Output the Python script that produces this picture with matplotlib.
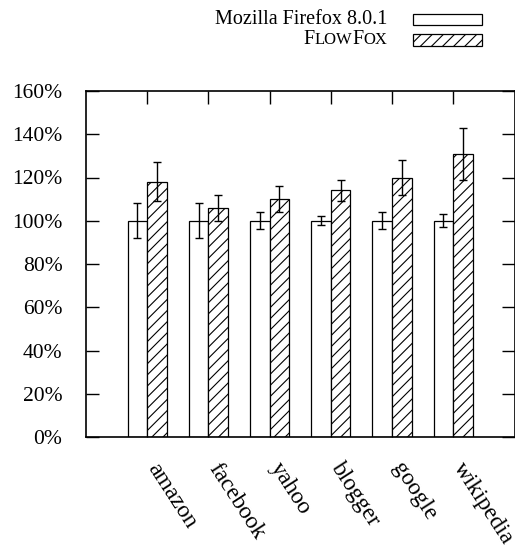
import matplotlib.pyplot as plt
import numpy as np
from matplotlib.offsetbox import TextArea, DrawingArea, HPacker, VPacker, AnchoredOffsetbox
from matplotlib.patches import Rectangle

plt.rcParams['font.family'] = ['Liberation Serif', 'DejaVu Serif']
plt.rcParams['hatch.linewidth'] = 0.8

sites = ['amazon', 'facebook', 'yahoo', 'blogger', 'google', 'wikipedia']
firefox = [100, 100, 100, 100, 100, 100]
firefox_err = [8, 8, 4, 2, 4, 3]
flowfox = [118, 106, 110, 114, 120, 131]
flowfox_err = [9, 6, 6, 5, 8, 12]
yticks = [0, 20, 40, 60, 80, 100, 120, 140, 160]

fs = 15.5
fig = plt.figure(figsize=(5.15, 5.58), dpi=100)
ax = fig.add_axes([86 / 515, 1 - 437 / 558, (514.5 - 86) / 515, (437 - 91) / 558])

x = np.arange(len(sites))
w = 0.32
ax.bar(x - w / 2, firefox, w, color='white', edgecolor='black', linewidth=0.9, zorder=2)
ax.bar(x + w / 2, flowfox, w, color='white', edgecolor='black', linewidth=0.9,
       hatch='///', zorder=2)
ax.errorbar(x - w / 2, firefox, yerr=firefox_err, fmt='none', ecolor='black',
            elinewidth=1, capsize=3, capthick=1, zorder=3)
ax.errorbar(x + w / 2, flowfox, yerr=flowfox_err, fmt='none', ecolor='black',
            elinewidth=1, capsize=3, capthick=1, zorder=3)

ax.set_xlim(-1, 6)
ax.set_ylim(0, 160)
ax.set_yticks(yticks)
ax.set_yticklabels([f'{v}%' for v in yticks], fontsize=fs)
ax.set_xticks(x)
ax.set_xticklabels(sites, fontsize=17, rotation=-57, ha='left', va='baseline',
                   rotation_mode='anchor')
ax.tick_params(axis='both', direction='in', length=9.5, width=1, color='black')
ax.tick_params(axis='y', right=True, pad=17)
ax.tick_params(axis='x', top=True, pad=22)
for s in ax.spines.values():
    s.set_linewidth(1.2)


# legend: text on the left, swatch on the right
def swatch(hatch):
    da = DrawingArea(50, 8.6, 0, 0)
    da.add_artist(Rectangle((0, 0), 50, 8.6, facecolor='white', edgecolor='black',
                            linewidth=0.9, hatch=hatch))
    return da


lfs = 14.5
row1 = HPacker(children=[TextArea('Mozilla Firefox 8.0.1', textprops=dict(size=lfs)),
                         swatch(None)], sep=18, align='center', pad=0)
small = 12
flow = HPacker(children=[TextArea('F', textprops=dict(size=lfs)),
                         TextArea('LOW', textprops=dict(size=small)),
                         TextArea('F', textprops=dict(size=lfs)),
                         TextArea('OX', textprops=dict(size=small))],
               sep=0, align='baseline', pad=0)
row2 = HPacker(children=[flow, swatch('///')], sep=18, align='center', pad=0)
legend = VPacker(children=[row1, row2], sep=1, align='right', pad=0)
box = AnchoredOffsetbox(loc='upper right', child=legend, pad=0, borderpad=0,
                        frameon=False, bbox_to_anchor=(482 / 515, 1 - 10 / 558),
                        bbox_transform=fig.transFigure)
fig.add_artist(box)

fig.savefig('out.png', dpi=100)
